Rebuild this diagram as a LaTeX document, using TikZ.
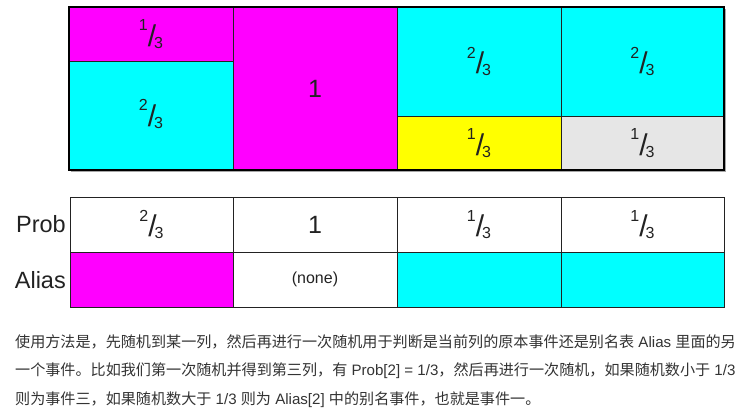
\documentclass[tikz,border=0pt]{standalone}
\usepackage{fontspec}
\setmainfont{Liberation Sans}
\newfontfamily\cjk{Noto Sans CJK SC}
\definecolor{mag}{HTML}{FF00FF}
\definecolor{cya}{HTML}{00FFFF}
\definecolor{yel}{HTML}{FFFF00}
\definecolor{lgr}{HTML}{E6E6E6}
\definecolor{ink}{HTML}{222222}
\definecolor{para}{HTML}{333333}
\newcommand\frc[2]{\raisebox{15.5pt}{\fontsize{16}{16}\selectfont #1}\kern0pt{\fontsize{30}{30}\selectfont /}\kern-2pt\raisebox{-2pt}{\fontsize{16}{16}\selectfont #2}}
\newcommand\zh[1]{{\cjk #1}}
\tikzset{
  cell/.style={draw=ink, line width=0.8pt, anchor=north west, inner sep=0pt, outer sep=0pt, text=ink, font=\fontsize{16}{16}\selectfont},
  tcell/.style={cell, draw=ink, line width=1pt, minimum height=55pt},
  big/.style={font=\fontsize{25}{25}\selectfont},
  rowlabel/.style={anchor=east, inner sep=0pt, text=ink, font=\fontsize{23.5}{23.5}\selectfont},
  paraline/.style={anchor=base west, inner sep=0pt, text=para, font=\fontsize{15.1}{15.1}\selectfont}
}
\begin{document}
\begin{tikzpicture}[x=1pt,y=-1pt]
\useasboundingbox (0,0) rectangle (750,413);
% top block
\node[cell, fill=mag, minimum width=164pt, minimum height=54pt] (c1a) at (69,7) {\raisebox{-1pt}{\frc13}};
\node[cell, fill=cya, minimum width=164pt, minimum height=109pt] (c1b) at (69,61) {\raisebox{5pt}{\frc23}};
\node[cell, fill=mag, big, minimum width=164pt, minimum height=163pt] (c2) at (233,7) {1};
\node[cell, fill=cya, minimum width=164pt, minimum height=109pt] (c3a) at (397,7) {\frc23};
\node[cell, fill=yel, minimum width=164pt, minimum height=54pt] (c3b) at (397,116) {\raisebox{-1pt}{\frc13}};
\node[cell, fill=cya, minimum width=163pt, minimum height=109pt] (c4a) at (561,7) {\frc23};
\node[cell, fill=lgr, minimum width=163pt, minimum height=54pt] (c4b) at (561,116) {\raisebox{-1pt}{\frc13}};
\draw[black!35, line width=1pt] ([shift={(1.5,1.5)}]c1b.south west) -- ([shift={(1.5,1.5)}]c4b.south east) -- ([shift={(1.5,1.5)}]c4a.north east);
\draw[black, line width=2.2pt] (c1a.north west) rectangle (c4b.south east);
% table
\node[tcell, fill=white, minimum width=163pt] (p1) at (70,197) {\frc23};
\node[tcell, fill=white, big, minimum width=164pt] (p2) at (233,197) {1};
\node[tcell, fill=white, minimum width=164pt] (p3) at (397,197) {\frc13};
\node[tcell, fill=white, minimum width=163pt] (p4) at (561,197) {\frc13};
\node[tcell, fill=mag, minimum width=163pt] (a1) at (70,252) {};
\node[tcell, fill=white, minimum width=164pt] (a2) at (233,252) {(none)};
\node[tcell, fill=cya, minimum width=164pt] (a3) at (397,252) {};
\node[tcell, fill=cya, minimum width=163pt] (a4) at (561,252) {};
\node[rowlabel] (lprob) at ([xshift=-4pt]p1.west) {Prob};
\node[rowlabel] (lalias) at ([xshift=-4pt,yshift=-1pt]a1.west) {Alias};
% paragraph
\node[paraline] (l1) at (15,347) {\zh{使用方法是，先随机到某一列，然后再进行一次随机用于判断是当前列的原本事件还是别名表} Alias \zh{里面的另}};
\node[paraline] (l2) at (15,375.5) {\zh{一个事件。比如我们第一次随机并得到第三列，有} Prob[2] = 1/3\zh{，然后再进行一次随机，如果随机数小于} 1/3};
\node[paraline] (l3) at (15,404) {\zh{则为事件三，如果随机数大于} 1/3 \zh{则为} Alias[2] \zh{中的别名事件，也就是事件一。}};
\end{tikzpicture}
\end{document}
